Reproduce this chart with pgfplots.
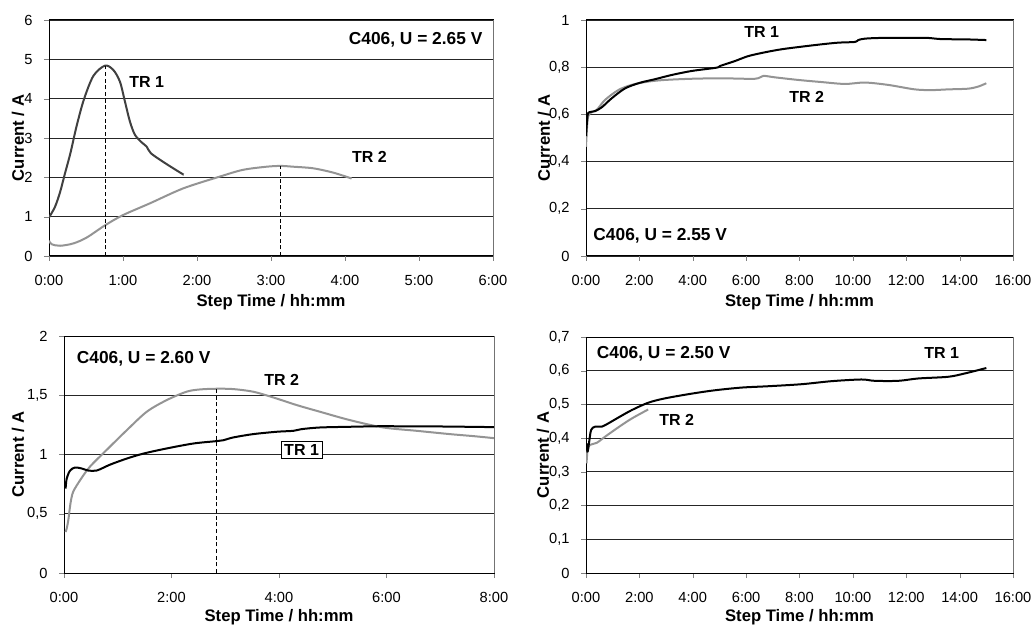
\documentclass[border=0pt]{standalone}
\usepackage{fontspec}
\setmainfont{Liberation Sans}
\usepackage{pgfplots}
\pgfplotsset{compat=1.18}
\definecolor{dgray}{gray}{0.25}
\definecolor{lgray}{gray}{0.58}
\tikzset{
 lab/.style={font=\fontsize{12}{14}\selectfont\bfseries, inner sep=0pt},
 labc/.style={font=\fontsize{13}{15}\selectfont\bfseries, inner sep=0pt},
 c1/.style={dgray, line width=1.5pt, smooth, tension=0.5, line join=round},
 c1b/.style={black, line width=1.5pt, smooth, tension=0.5, line join=round},
 c2/.style={lgray, line width=1.5pt, smooth, tension=0.5, line join=round},
}
\pgfplotsset{
 panel/.style={
  scale only axis, anchor=south west,
  font=\fontsize{11}{13}\selectfont,
  tick align=outside, tick pos=left,
  major tick length=3.75pt,
  ymajorgrids, grid style={black!85, line width=0.6pt},
  axis line style={line width=0.75pt},
  clip mode=individual,
  x tick label style={yshift=-7pt},
  y tick label style={xshift=-5pt},
  /pgf/number format/assume math mode=true,
  /pgf/number format/use comma,
  xlabel={Step Time / hh:mm}, ylabel={Current / A},
  label style={font=\fontsize{12.5}{14}\selectfont\bfseries},
 },
}
\begin{document}
\begin{tikzpicture}
\path[use as bounding box] (0,0) rectangle (776.25pt,-470.25pt);
% Panel 1
\begin{axis}[panel, at={(36.75pt,-192pt)}, width=333pt, height=177pt,
  xmin=0, xmax=6, ymin=0, ymax=6, xtick={0,...,6},
  xticklabels={0:00,1:00,2:00,3:00,4:00,5:00,6:00}, ytick={0,...,6},
  ylabel style={at={(axis description cs:-0.0698,0.5)}, anchor=center},
  xlabel style={at={(axis description cs:0.5,-0.195)}, anchor=center}]
\addplot[c1] coordinates {(0,0.98)(0.081,1.25)(0.149,1.62)(0.216,2.1)(0.29,2.62)(0.37,3.28)(0.47,3.97)(0.6,4.58)(0.757,4.84)(0.869,4.73)(0.959,4.43)(1.027,3.92)(1.095,3.41)(1.162,3.08)(1.252,2.89)(1.32,2.78)(1.378,2.61)(1.57,2.36)(1.79,2.10)(1.82,2.07)};
\addplot[c2] coordinates {(0,0.39)(0.036,0.30)(0.149,0.26)(0.33,0.32)(0.51,0.47)(0.757,0.78)(1.0,1.04)(1.365,1.34)(1.815,1.72)(2.31,2.02)(2.62,2.19)(2.94,2.27)(3.13,2.29)(3.3,2.27)(3.57,2.23)(3.84,2.12)(4.09,1.97)};
\draw[densely dashed, line width=0.4pt] (axis cs:0.757,0) -- (axis cs:0.757,4.84);
\draw[densely dashed, line width=0.4pt] (axis cs:3.13,0) -- (axis cs:3.13,2.29);
\draw[black!55, line width=0.75pt] (rel axis cs:1,0) -- (rel axis cs:1,1);
\node[lab] at (axis cs:1.32,4.43) {TR 1};
\node[lab] at (axis cs:4.33,2.52) {TR 2};
\node[labc, anchor=east] at (axis cs:5.86,5.49) {C406, U = 2.65 V};
\end{axis}
% Panel 2
\begin{axis}[panel, at={(439.5pt,-192pt)}, width=320.25pt, height=177pt,
  xmin=0, xmax=16, ymin=0, ymax=1, xtick={0,2,...,16},
  xticklabels={0:00,2:00,4:00,6:00,8:00,10:00,12:00,14:00,16:00}, ytick={0,0.2,0.4,0.6,0.8,1},
  yticklabels={0,{0,2},{0,4},{0,6},{0,8},1},
  ylabel style={at={(axis description cs:-0.0984,0.5)}, anchor=center},
  xlabel style={at={(axis description cs:0.5,-0.195)}, anchor=center}]
\addplot[c2] coordinates {(0,0.463)(0.06,0.576)(0.15,0.605)(0.4,0.619)(0.71,0.661)(1.21,0.703)(1.71,0.725)(2.33,0.739)(2.96,0.746)(3.96,0.751)(5.08,0.753)(6.33,0.751)(6.64,0.763)(7.08,0.757)(7.95,0.746)(8.83,0.737)(9.7,0.729)(10.45,0.735)(11.32,0.725)(12.32,0.706)(12.95,0.703)(13.57,0.706)(14.32,0.709)(14.7,0.718)(15.0,0.732)};
\addplot[c1b] coordinates {(0,0.508)(0.06,0.597)(0.15,0.61)(0.34,0.614)(0.59,0.63)(0.96,0.668)(1.46,0.71)(2.02,0.734)(2.58,0.749)(3.21,0.767)(3.96,0.784)(4.89,0.798)(5.02,0.805)(5.58,0.826)(6.08,0.847)(6.7,0.863)(7.33,0.876)(8.08,0.887)(8.83,0.897)(9.45,0.904)(10.08,0.907)(10.2,0.915)(10.45,0.921)(11.07,0.924)(12.32,0.924)(12.82,0.924)(13.32,0.919)(14.2,0.918)(15.0,0.915)};
\draw[black!55, line width=0.75pt] (rel axis cs:1,0) -- (rel axis cs:1,1);
\node[lab] at (axis cs:6.58,0.948) {TR 1};
\node[lab] at (axis cs:8.27,0.672) {TR 2};
\node[labc, anchor=west] at (axis cs:0.27,0.085) {C406, U = 2.55 V};
\end{axis}
% Panel 3
\begin{axis}[panel, at={(48pt,-429.75pt)}, width=322.5pt, height=177.75pt,
  xmin=0, xmax=8, ymin=0, ymax=2, xtick={0,2,4,6,8},
  xticklabels={0:00,2:00,4:00,6:00,8:00}, ytick={0,0.5,1,1.5,2},
  yticklabels={0,{0,5},1,{1,5},2},
  ylabel style={at={(axis description cs:-0.107,0.5)}, anchor=center},
  xlabel style={at={(axis description cs:0.5,-0.186)}, anchor=center}]
\addplot[c2] coordinates {(0.03,0.346)(0.05,0.375)(0.08,0.445)(0.12,0.586)(0.17,0.684)(0.3,0.783)(0.48,0.896)(0.79,1.037)(1.17,1.206)(1.54,1.361)(1.91,1.459)(2.28,1.53)(2.53,1.549)(2.84,1.555)(3.15,1.552)(3.52,1.53)(3.89,1.482)(4.33,1.417)(4.76,1.361)(5.32,1.29)(5.94,1.228)(6.56,1.2)(7.18,1.172)(7.62,1.155)(8,1.138)};
\addplot[c1b] coordinates {(0.03,0.713)(0.05,0.797)(0.11,0.862)(0.2,0.89)(0.33,0.882)(0.45,0.865)(0.61,0.865)(0.86,0.915)(1.17,0.966)(1.48,1.008)(1.91,1.051)(2.41,1.093)(2.84,1.113)(2.96,1.12)(3.15,1.144)(3.52,1.172)(3.96,1.192)(4.27,1.2)(4.42,1.214)(4.76,1.228)(5.32,1.234)(5.94,1.239)(6.37,1.237)(6.87,1.237)(7.49,1.234)(8,1.231)};
\draw[densely dashed, line width=0.4pt] (axis cs:2.84,0) -- (axis cs:2.84,1.555);
\draw[black!55, line width=0.75pt] (rel axis cs:1,0) -- (rel axis cs:1,1);
\node[lab, draw=black, fill=white, line width=0.6pt, inner sep=2.5pt] at (axis cs:4.42,1.038) {TR 1};
\node[lab] at (axis cs:4.05,1.63) {TR 2};
\node[labc, anchor=west] at (axis cs:0.236,1.81) {C406, U = 2.60 V};
\end{axis}
% Panel 4
\begin{axis}[panel, at={(439.5pt,-429.75pt)}, width=320.25pt, height=177pt,
  xmin=0, xmax=16, ymin=0, ymax=0.7, xtick={0,2,...,16},
  xticklabels={0:00,2:00,4:00,6:00,8:00,10:00,12:00,14:00,16:00},
  ytick={0,0.1,0.2,0.3,0.4,0.5,0.6,0.7},
  yticklabels={0,{0,1},{0,2},{0,3},{0,4},{0,5},{0,6},{0,7}},
  ylabel style={at={(axis description cs:-0.1007,0.5)}, anchor=center},
  xlabel style={at={(axis description cs:0.5,-0.186)}, anchor=center}]
\addplot[c2] coordinates {(0.02,0.325)(0.06,0.365)(0.15,0.38)(0.4,0.386)(0.71,0.404)(1.21,0.432)(1.71,0.458)(2.33,0.485)};
\addplot[c1b] coordinates {(0.02,0.384)(0.06,0.36)(0.11,0.384)(0.19,0.424)(0.34,0.434)(0.59,0.434)(0.84,0.444)(1.21,0.461)(1.71,0.483)(2.33,0.505)(2.96,0.518)(3.96,0.532)(4.83,0.542)(5.83,0.55)(6.83,0.554)(8.08,0.56)(9.2,0.569)(10.32,0.574)(10.82,0.57)(11.7,0.57)(12.45,0.577)(13.57,0.582)(14.2,0.592)(15.0,0.608)};
\draw[black!55, line width=0.75pt] (rel axis cs:1,0) -- (rel axis cs:1,1);
\node[lab] at (axis cs:13.33,0.652) {TR 1};
\node[lab] at (axis cs:3.4,0.454) {TR 2};
\node[labc, anchor=west] at (axis cs:0.4,0.649) {C406, U = 2.50 V};
\end{axis}
\end{tikzpicture}
\end{document}
